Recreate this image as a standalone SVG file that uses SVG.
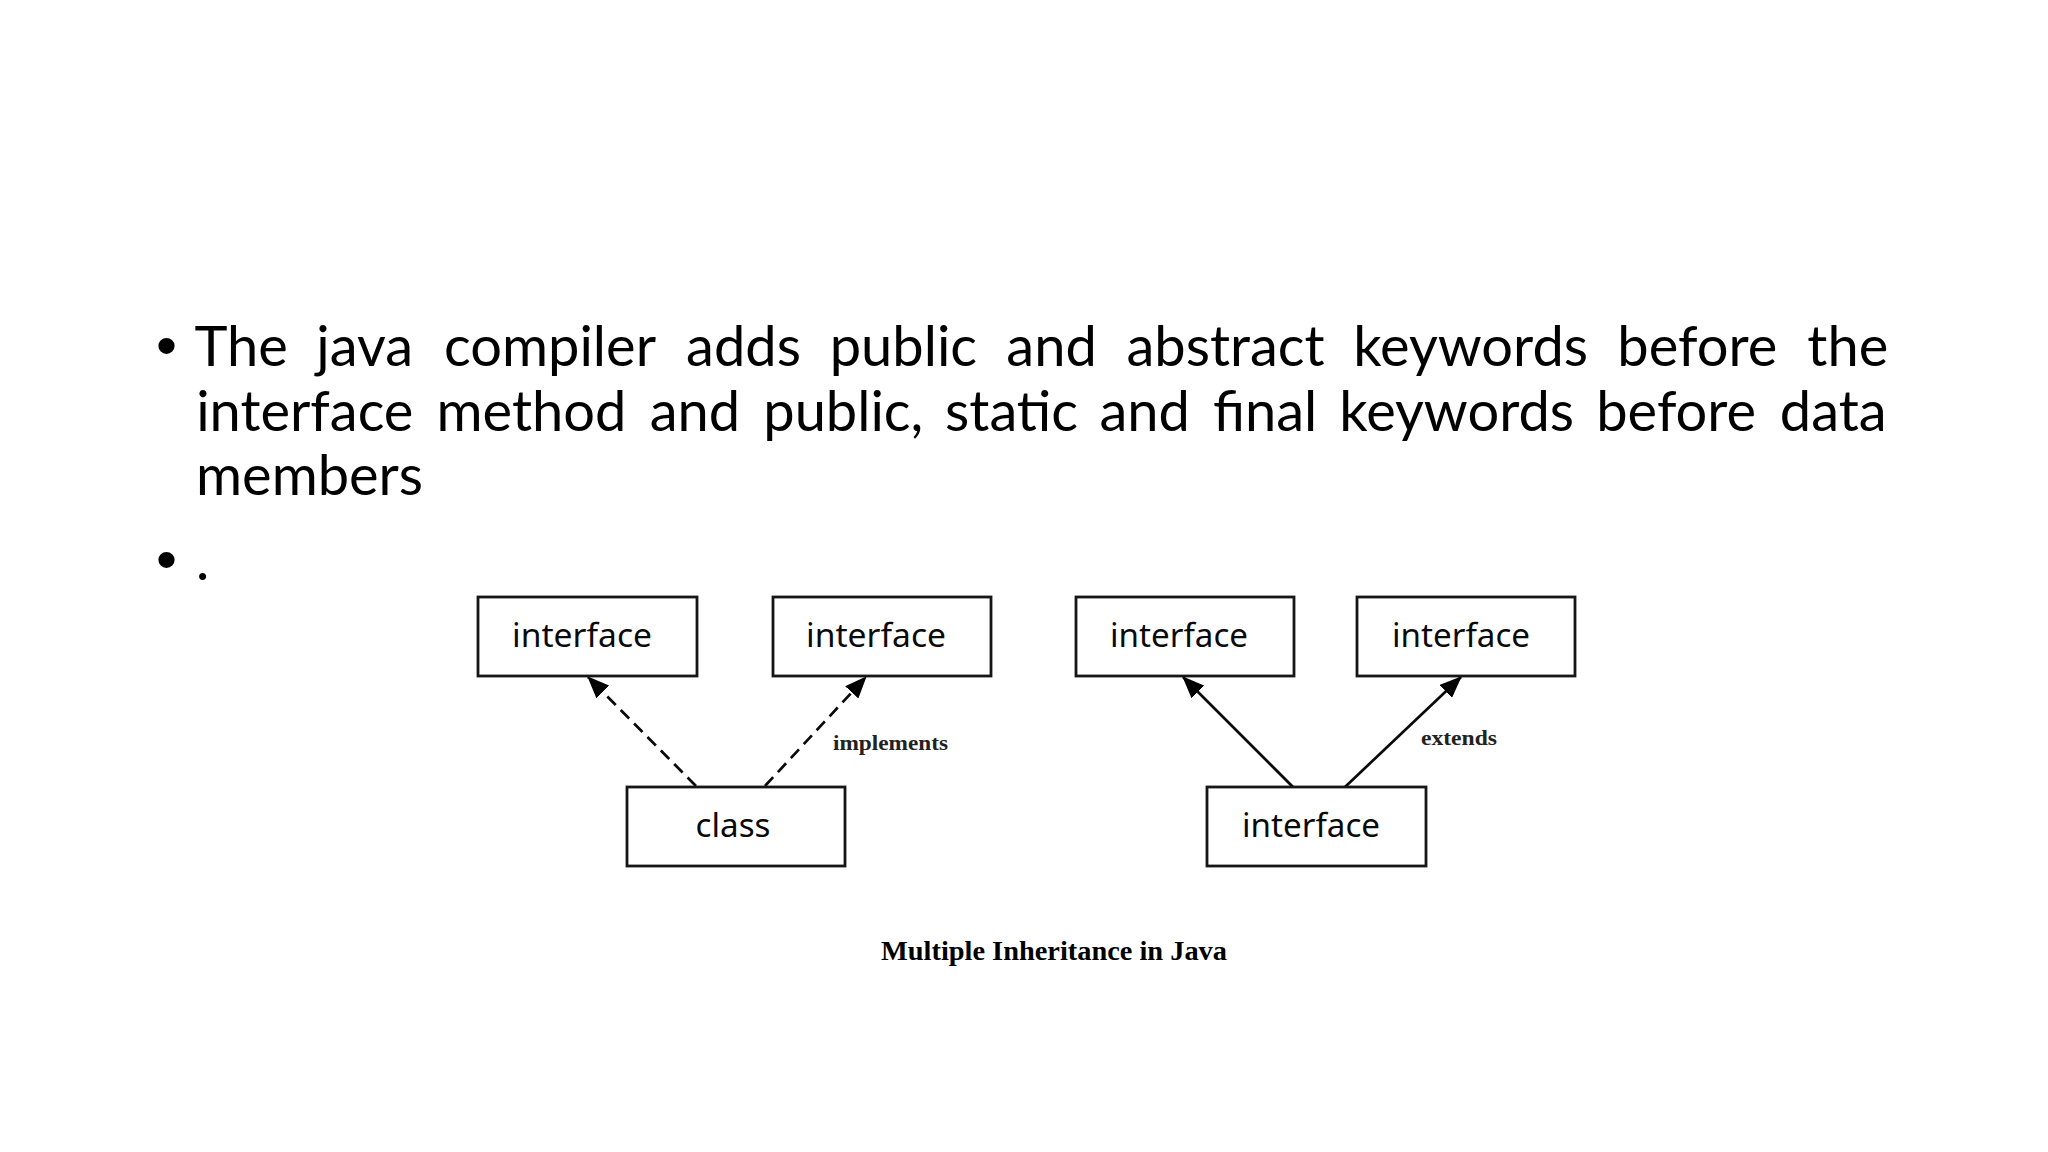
<svg xmlns="http://www.w3.org/2000/svg" width="2048" height="1152" viewBox="0 0 2048 1152">
  <style>
    .body { font-family: Lato, "Open Sans", "Liberation Sans", sans-serif; font-size: 56px; fill: #000; }
    .bullet { font-family: "Liberation Sans", Arial, sans-serif; font-size: 60px; fill: #000; }
    .box { fill: #fff; stroke: #161616; stroke-width: 2.8; }
    .lbl { font-family: "Noto Sans", "Open Sans", sans-serif; font-size: 33px; fill: #0a0a0a; text-anchor: middle; }
    .edge { stroke: #0a0a0a; stroke-width: 2.7; fill: none; }
    .dashed { stroke-dasharray: 12 7; }
    .elbl { font-family: "Liberation Serif", "DejaVu Serif", serif; font-size: 22px; font-weight: bold; fill: #222; }
    .cap { font-family: "Liberation Serif", "DejaVu Serif", serif; font-size: 28px; font-weight: bold; fill: #000; }
  </style>
  <defs>
    <marker id="arrow" viewBox="0 0 22 18" refX="21" refY="9" markerWidth="22" markerHeight="18" markerUnits="userSpaceOnUse" orient="auto">
      <path d="M0,0 L22,9 L0,18 Z" fill="#000"/>
    </marker>
  </defs>
  <rect width="2048" height="1152" fill="#fff"/>

  <g id="bullet-text">
    <text class="bullet" x="156" y="366">•</text>
    <text class="body" text-anchor="middle" y="366">
      <tspan x="241.1">The</tspan><tspan x="364.7">java</tspan><tspan x="550">compiler</tspan><tspan x="743.5">adds</tspan><tspan x="903.4">public</tspan><tspan x="1051.6">and</tspan><tspan x="1225.5">abstract</tspan><tspan x="1470.6">keywords</tspan><tspan x="1697.3">before</tspan><tspan x="1847.8">the</tspan>
    </text>
    <text class="body" text-anchor="middle" y="430.5">
      <tspan x="304.8">interface</tspan><tspan x="531.4">method</tspan><tspan x="694.9">and</tspan><tspan x="843.3">public,</tspan><tspan x="1011.6">static</tspan><tspan x="1144.7">and</tspan><tspan x="1265.1">final</tspan><tspan x="1456.7">keywords</tspan><tspan x="1676.2">before</tspan><tspan x="1833.2">data</tspan>
    </text>
    <text class="body" x="196" y="495">members</text>
    <text class="bullet" x="156" y="580">•</text>
    <text class="body" x="196" y="580">.</text>
  </g>

  <g id="connectors">
    <line class="edge dashed" x1="696" y1="786" x2="588" y2="677" marker-end="url(#arrow)"/>
    <line class="edge dashed" x1="765" y1="786" x2="866" y2="677" marker-end="url(#arrow)"/>
    <line class="edge" x1="1293" y1="787" x2="1183" y2="677" marker-end="url(#arrow)"/>
    <line class="edge" x1="1345" y1="787" x2="1461" y2="677" marker-end="url(#arrow)"/>
    <text class="elbl" x="833" y="750" textLength="115" lengthAdjust="spacingAndGlyphs">implements</text>
    <text class="elbl" x="1421" y="745" textLength="76" lengthAdjust="spacingAndGlyphs">extends</text>
  </g>

  <g id="node-interface1">
    <rect class="box" x="478" y="597" width="219" height="79"/>
    <text class="lbl" x="582" y="647" textLength="140" lengthAdjust="spacingAndGlyphs">interface</text>
  </g>
  <g id="node-interface2">
    <rect class="box" x="773" y="597" width="218" height="79"/>
    <text class="lbl" x="876" y="647" textLength="140" lengthAdjust="spacingAndGlyphs">interface</text>
  </g>
  <g id="node-class">
    <rect class="box" x="627" y="787" width="218" height="79"/>
    <text class="lbl" x="733" y="837" textLength="75" lengthAdjust="spacingAndGlyphs">class</text>
  </g>
  <g id="node-interface3">
    <rect class="box" x="1076" y="597" width="218" height="79"/>
    <text class="lbl" x="1179" y="647" textLength="138" lengthAdjust="spacingAndGlyphs">interface</text>
  </g>
  <g id="node-interface4">
    <rect class="box" x="1357" y="597" width="218" height="79"/>
    <text class="lbl" x="1461" y="647" textLength="138" lengthAdjust="spacingAndGlyphs">interface</text>
  </g>
  <g id="node-interface5">
    <rect class="box" x="1207" y="787" width="219" height="79"/>
    <text class="lbl" x="1311" y="837" textLength="138" lengthAdjust="spacingAndGlyphs">interface</text>
  </g>

  <g id="caption">
    <text class="cap" x="881" y="960" textLength="346" lengthAdjust="spacingAndGlyphs">Multiple Inheritance in Java</text>
  </g>
</svg>
